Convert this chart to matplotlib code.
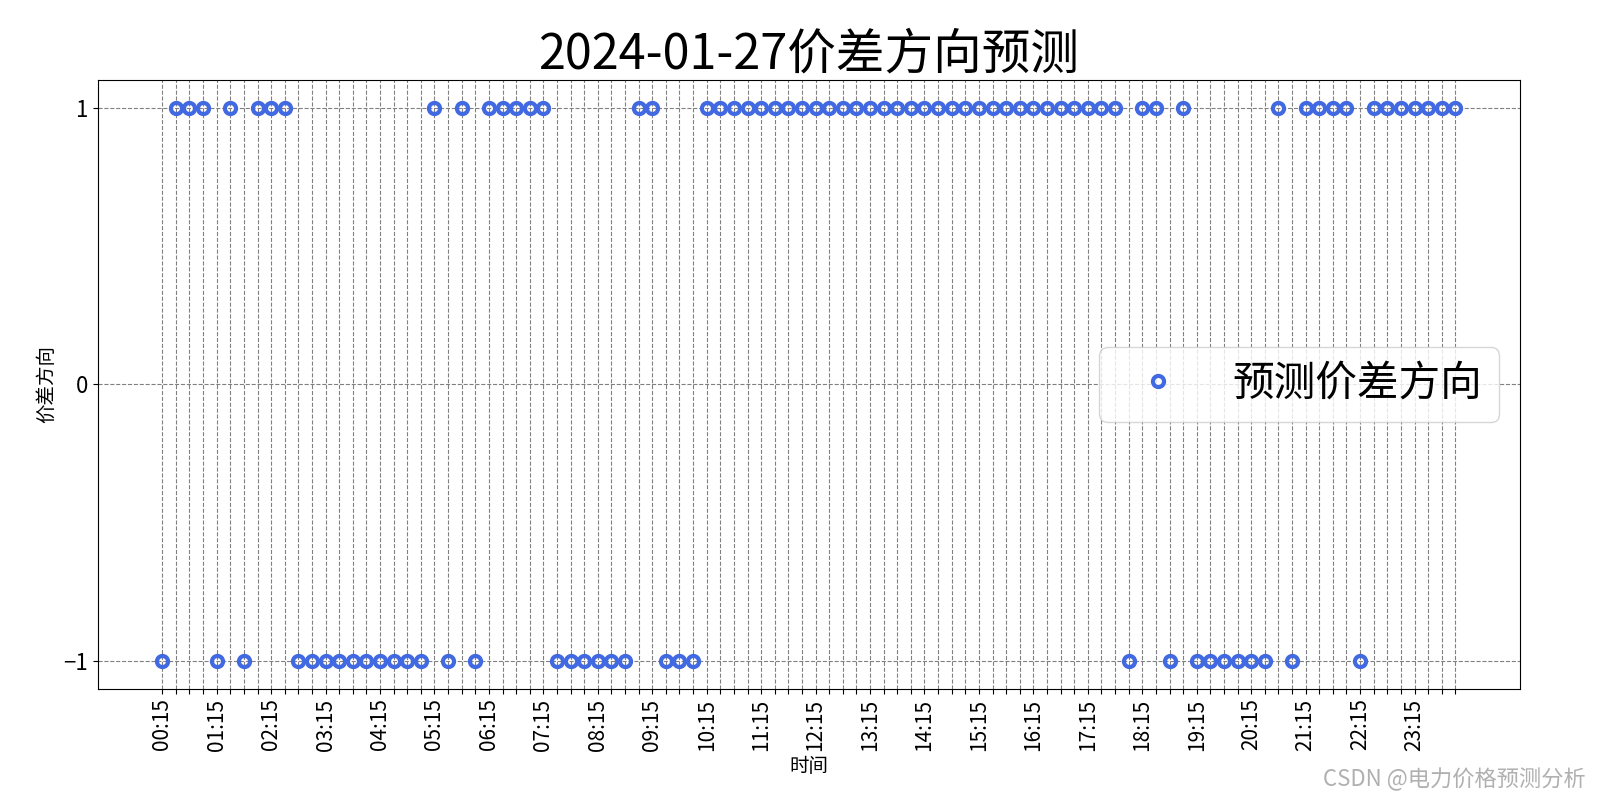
import matplotlib
matplotlib.use("Agg")
import matplotlib.pyplot as plt

plt.rcParams['font.family'] = ['Noto Sans CJK SC', 'DejaVu Sans']
plt.rcParams['axes.unicode_minus'] = True

title = "2024-01-27价差方向预测"
times = [f"{(15*(i+1))//60:02d}:{(15*(i+1))%60:02d}" for i in range(96)]
direction = [
    -1, 1, 1, 1, -1, 1, -1, 1, 1, 1,
    -1, -1, -1, -1, -1, -1, -1, -1, -1, -1,
    1, -1, 1, -1, 1, 1, 1, 1, 1, -1,
    -1, -1, -1, -1, -1, 1, 1, -1, -1, -1,
    1, 1, 1, 1, 1, 1, 1, 1, 1, 1,
    1, 1, 1, 1, 1, 1, 1, 1, 1, 1,
    1, 1, 1, 1, 1, 1, 1, 1, 1, 1,
    1, -1, 1, 1, -1, 1, -1, -1, -1, -1,
    -1, -1, 1, -1, 1, 1, 1, 1, -1, 1,
    1, 1, 1, 1, 1, 1,
]
yticks = [-1, 0, 1]

fig, ax = plt.subplots(figsize=(16, 8), dpi=100)
fig.subplots_adjust(left=0.061, right=0.95, top=0.90, bottom=0.139)

x = list(range(len(times)))
ax.plot(x, direction, linestyle='none', marker='o', markersize=8,
        markerfacecolor='none', markeredgecolor='royalblue', markeredgewidth=3,
        label='预测价差方向')

ax.set_xticks(x)
ax.set_xticklabels([t if i % 4 == 0 else '' for i, t in enumerate(times)],
                   rotation=90, fontsize=15)
ax.set_yticks(yticks)
ax.set_yticklabels(['\u22121', '0', '1'], fontsize=16)
ax.grid(True, linestyle='--', color='gray', linewidth=0.8)
ax.set_axisbelow(True)
ax.set_title(title, fontsize=35)
ax.set_xlabel('时间', fontsize=14)
ax.set_ylabel('价差方向', fontsize=14)
ax.legend(loc='center right', fontsize=30)

fig.text(0.991, 0.026, 'CSDN @电力价格预测分析', ha='right', va='center',
         fontsize=16, color='#b0b0b0')

fig.savefig('out.png', dpi=100)
